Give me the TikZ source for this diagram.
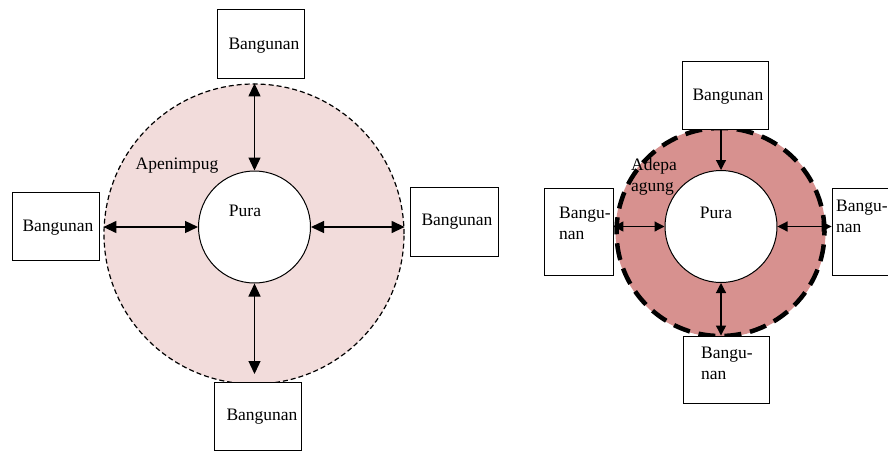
\documentclass[tikz,border=0pt]{standalone}
\usepackage{fontspec}
\setmainfont{Liberation Serif}
\usetikzlibrary{arrows.meta}
\definecolor{pinkL}{HTML}{F2DCDB}
\definecolor{pinkD}{HTML}{D7918F}
\begin{document}
\begin{tikzpicture}[x=1pt,y=-1pt,
  txt/.style={font=\fontsize{17.5}{21}\selectfont, inner sep=0pt, align=left},
  box/.style={draw, line width=0.9pt, fill=white, inner sep=0pt},
  ring/.style={circle, inner sep=0pt},
  bigtip/.style={{Triangle[length=13pt,width=12pt]}-{Triangle[length=13pt,width=12pt]}, line width=1.3pt},
  smalltip/.style={{Triangle[length=10pt,width=10pt]}-{Triangle[length=10pt,width=10pt]}, line width=1.2pt}
]
\clip (0,0) rectangle (888,450);
\fill[white] (0,0) rectangle (888,450);

% ---------------- left diagram ----------------
\node[ring, fill=pinkL, draw, line width=1.2pt, dash pattern=on 5pt off 3pt, minimum size=300pt] (LO) at (254,234) {};
\node[ring, fill=white, draw, line width=1pt, minimum size=112pt] (LI) at (254.5,227) {};
\node[txt] (Lpura) at (245,211) {Pura};
\node[txt] (Lape) at (177,166) {Apenimpug};

\node[box, minimum width=87pt, minimum height=69pt] (LT) at (260.5,43.5) {};
\node[box, minimum width=87pt, minimum height=68pt] (LL) at (55.5,226) {};
\node[box, minimum width=88pt, minimum height=69pt] (LR) at (454,221.5) {};
\node[box, minimum width=87pt, minimum height=68pt] (LB) at (257.5,416) {};
\node[txt] (LTt) at (264,46) {Bangunan};
\node[txt] (LLt) at (58,228) {Bangunan};
\node[txt] (LRt) at (457,222) {Bangunan};
\node[txt] (LBt) at (262,417) {Bangunan};

\coordinate (LBend) at (254.5,374);
\draw[bigtip] (LI.north |- LO.north) -- (LI.north);
\draw[bigtip] (LI.west -| LO.west) -- (LI.west);
\draw[bigtip] (LI.east) -- (LI.east -| LO.east);
\draw[bigtip] (LI.south) -- (LBend);

% ---------------- right diagram ----------------
\node[ring, fill=pinkD, minimum size=210pt] (RO) at (720.5,232) {};
\node[txt] (Radepa) at (654,177) {Adepa\\agung};
\node[ring, draw, line width=4.5pt, dash pattern=on 17pt off 9pt, minimum size=208pt] (ROb) at (720.5,232) {};
\node[ring, fill=white, draw, line width=1pt, minimum size=112pt] (RI) at (721,226.5) {};
\node[txt] (Rpura) at (716,213) {Pura};

\node[box, minimum width=86pt, minimum height=68pt] (RT) at (725,95) {};
\node[box, minimum width=69pt, minimum height=87pt] (RL) at (578.5,231.5) {};
\node[box, minimum width=70pt, minimum height=87pt] (RR) at (867,231.5) {};
\node[box, minimum width=86pt, minimum height=67pt] (RB) at (726,369.5) {};
\node[txt] (RTt) at (728,97) {Bangunan};
\node[txt, anchor=west] (RLt) at (559,223) {Bangu-\\nan};
\node[txt, anchor=west] (RRt) at (836,216) {Bangu-\\nan};
\node[txt, anchor=west] (RBt) at (701,363) {Bangu-\\nan};

\draw[-{Triangle[length=10pt,width=10pt]}, line width=1.2pt] (RI.north |- RT.south) -- (RI.north);
\draw[smalltip] (RL.east |- RI.west) -- (RI.west);
\draw[smalltip] (RI.east) -- (RI.east -| RR.west);
\draw[smalltip] (RI.south) -- (RI.south |- RB.north);
\end{tikzpicture}
\end{document}
